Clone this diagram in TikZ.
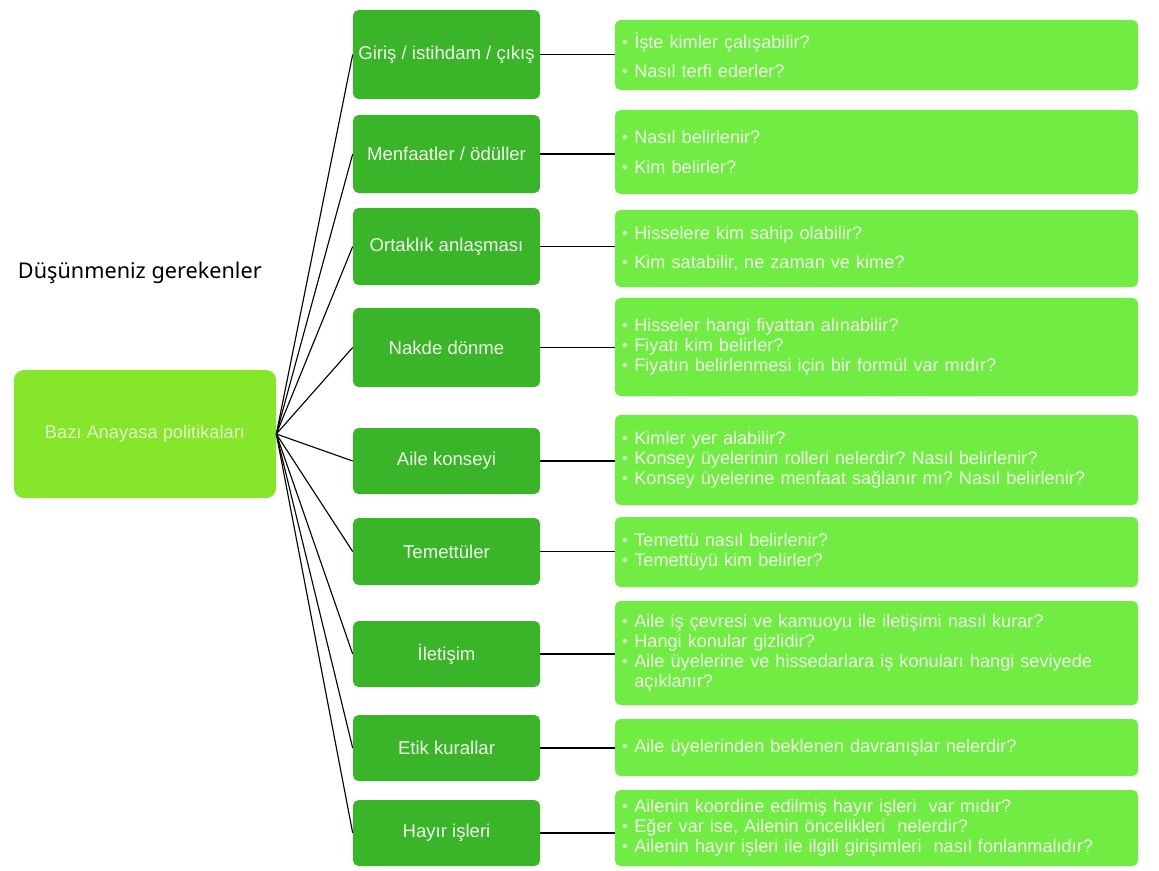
\documentclass[tikz,border=0pt]{standalone}
\usepackage{fontspec}
\setmainfont{Liberation Sans}
\newfontfamily\headfont{Noto Sans}
\definecolor{rootgreen}{RGB}{134,230,42}
\definecolor{midgreen}{RGB}{58,180,40}
\definecolor{qgreen}{RGB}{112,236,66}
\definecolor{boxtext}{RGB}{240,251,234}
\definecolor{roottext}{RGB}{226,246,204}
\definecolor{dotgray}{RGB}{196,232,184}
\newcommand{\qb}{{\color{dotgray}\textbullet}\ }
\newcommand{\qind}{\phantom{\textbullet\ }}
\frenchspacing

\begin{document}
\begin{tikzpicture}[x=0.025cm,y=-0.025cm,
	rootbox/.style={fill=rootgreen, rounded corners=7pt, text=roottext, minimum width=6.55cm, minimum height=3.2cm, font=\fontsize{13}{15}\selectfont},
	midbox/.style={fill=midgreen, rounded corners=4pt, text=boxtext, minimum width=4.675cm, inner sep=0pt, font=\fontsize{13.2}{15}\selectfont},
	qbox/.style={fill=qgreen, rounded corners=4pt, text=boxtext, text width=12.725cm, inner xsep=0.175cm, inner ysep=0pt, align=left, font=\fontsize{12.9}{14.3}\selectfont},
	link/.style={black, line width=0.8pt}]
	\useasboundingbox (0,0) rectangle (1159,870);
	\node[anchor=west, font=\headfont\fontsize{15.4}{18}\selectfont] (think) at (13,273) {Düşünmeniz gerekenler};
	\node[rootbox] (root) at (145,434) {Bazı Anayasa politikaları};
	% middle column
	\node[midbox, minimum height=2.225cm] (m1) at (446.5,54.5) {Giriş / istihdam / çıkış};
	\node[midbox, minimum height=1.95cm] (m2) at (446.5,154) {Menfaatler / ödüller};
	\node[midbox, minimum height=1.925cm] (m3) at (446.5,246.5) {Ortaklık anlaşması};
	\node[midbox, minimum height=1.975cm] (m4) at (446.5,347.5) {Nakde dönme};
	\node[midbox, minimum height=1.65cm] (m5) at (446.5,461) {Aile konseyi};
	\node[midbox, minimum height=1.675cm] (m6) at (446.5,551.5) {Temettüler};
	\node[midbox, minimum height=1.65cm] (m7) at (446.5,654) {İletişim};
	\node[midbox, minimum height=1.65cm] (m8) at (446.5,748) {Etik kurallar};
	\node[midbox, minimum height=1.65cm] (m9) at (446.5,833) {Hayır işleri};
	% questions
	\node[qbox, minimum height=1.75cm] (r1) at (876.5,55) {\qb İşte kimler çalışabilir?\\[6pt]\qb Nasıl terfi ederler?};
	\node[qbox, minimum height=2.1cm] (r2) at (876.5,152) {\qb Nasıl belirlenir?\\[7pt]\qb Kim belirler?};
	\node[qbox, minimum height=1.925cm] (r3) at (876.5,248.5) {\qb Hisselere kim sahip olabilir?\\[6pt]\qb Kim satabilir, ne zaman ve kime?};
	\node[qbox, minimum height=2.45cm] (r4) at (876.5,347) {\qb Hisseler hangi fiyattan alınabilir?\\\qb Fiyatı kim belirler?\\\qb Fiyatın belirlenmesi için bir formül var mıdır?};
	\node[qbox, minimum height=2.25cm] (r5) at (876.5,460) {\qb Kimler yer alabilir?\\\qb Konsey üyelerinin rolleri nelerdir? Nasıl belirlenir?\\\qb Konsey üyelerine menfaat sağlanır mı? Nasıl belirlenir?};
	\node[qbox, minimum height=1.75cm] (r6) at (876.5,552) {\qb Temettü nasıl belirlenir?\\\qb Temettüyü kim belirler?};
	\node[qbox, minimum height=2.6cm] (r7) at (876.5,653) {\qb Aile iş çevresi ve kamuoyu ile iletişimi nasıl kurar?\\\qb Hangi konular gizlidir?\\\qb Aile üyelerine ve hissedarlara iş konuları hangi seviyede\\\qind açıklanır?};
	\node[qbox, minimum height=1.425cm] (r8) at (876.5,747.5) {\qb Aile üyelerinden beklenen davranışlar nelerdir?};
	\node[qbox, minimum height=1.9cm] (r9) at (876.5,828) {\qb Ailenin koordine edilmiş hayır işleri\ \ var mıdır?\\\qb Eğer var ise, Ailenin öncelikleri\ \ nelerdir?\\\qb Ailenin hayır işleri ile ilgili girişimleri\ \ nasıl fonlanmalıdır?};
	\foreach \i in {1,...,9} {
		\draw[link] (root.east) -- (m\i.west);
		\draw[link] (m\i.east) -- (m\i.east -| r\i.west);
	}
\end{tikzpicture}
\end{document}
